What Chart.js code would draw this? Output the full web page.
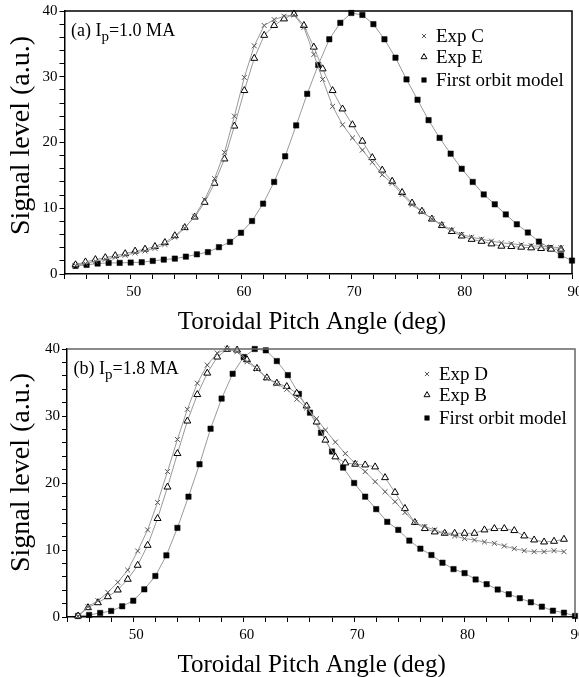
<!DOCTYPE html>
<html><head><meta charset="utf-8">
<script src="https://cdn.jsdelivr.net/npm/chart.js@4.4.1/dist/chart.umd.min.js"></script>
<style>
html,body{margin:0;padding:0;background:#fff;overflow:hidden;width:579px;height:677px;position:relative;}
canvas{position:absolute;left:0;}
#c1{top:0;} #c2{top:338px;}
</style></head><body>
<canvas id="c1" width="600" height="338"></canvas>
<canvas id="c2" width="600" height="339"></canvas>
<script>
// ---------- data ----------
const expAngles = [45.0,45.9,46.8,47.7,48.6,49.5,50.4,51.3,52.2,53.1,54.0,54.9,55.8,56.7,57.6,58.5,59.4,60.3,61.2,62.1,
  63.0,63.9,64.8,65.7,66.6,67.4,68.3,69.2,70.1,71.0,71.9,72.8,73.7,74.6,75.5,76.4,77.3,78.2,79.1,80.0,
  80.9,81.8,82.7,83.6,84.5,85.4,86.3,87.2,88.1,89.0];
const orbitAngles = [45,46,47,48,49,50,51,52,53,54,55,56,57,58,59,60,61,62,63,64,65,66,67,68,69,70,
  71,72,73,74,75,76,77,78,79,80,81,82,83,84,85,86,87,88,89,90];

// panel (a) Ip = 1.0 MA
const expC = [1.3,1.6,1.95,2.25,2.55,2.85,3.2,3.5,3.9,4.5,5.6,7.0,8.8,11.3,14.5,18.5,24.0,29.9,34.7,37.8,
  38.7,39.2,39.4,37.5,33.4,29.6,25.5,22.7,20.7,18.85,17.0,15.1,13.8,12.1,10.55,9.45,8.4,7.5,6.7,6.0,
  5.6,5.3,5.0,4.75,4.6,4.45,4.3,4.2,4.1,4.0];
const expE = [1.4,1.84,2.19,2.49,2.79,3.09,3.48,3.78,4.18,4.78,5.82,7.06,8.66,10.9,13.8,17.5,22.5,27.9,32.8,36.3,
  37.8,38.8,39.55,37.8,34.5,31.2,27.9,25.1,22.7,20.2,17.7,15.8,14.1,12.4,10.8,9.55,8.36,7.36,6.46,5.78,
  5.27,4.97,4.58,4.23,4.18,4.08,3.98,3.88,3.78,3.78];
const orbitA = [1.24,1.39,1.59,1.69,1.69,1.74,1.79,1.99,2.19,2.34,2.64,2.99,3.33,4.08,4.88,6.27,8.06,10.7,14.0,17.9,
  22.6,27.4,31.8,35.7,38.2,39.7,39.4,38.0,35.7,32.9,29.6,26.5,23.4,20.7,18.3,16.0,14.0,12.1,10.6,9.06,
  7.56,6.31,4.93,3.93,2.84,2.04];

// panel (b) Ip = 1.8 MA
const expD = [0.15,1.54,2.43,3.68,5.18,7.0,9.85,13.0,17.1,21.7,26.5,31.0,34.9,37.6,39.4,40.0,39.6,38.1,37.0,35.6,
  34.8,34.0,32.5,31.2,29.6,27.9,26.1,24.4,22.9,21.7,20.2,18.7,17.2,15.6,14.1,13.5,13.0,12.5,12.1,11.7,
  11.5,11.2,11.0,10.6,10.2,9.9,9.75,9.75,9.9,9.75];
const expB = [0.15,1.39,2.13,3.03,4.03,5.63,7.72,10.7,14.7,19.4,24.4,29.25,33.2,36.4,38.8,39.95,39.85,38.4,37.1,35.7,
  34.9,34.4,33.4,31.5,29.1,26.4,23.9,23.0,22.8,22.7,22.4,20.8,18.6,16.2,14.1,13.2,12.7,12.5,12.5,12.5,
  12.5,13.0,13.2,13.2,12.9,12.1,11.5,11.2,11.3,11.6];
const orbitB = [0.15,0.3,0.6,0.9,1.6,2.43,4.13,6.12,9.2,13.3,17.96,22.8,28.1,32.6,36.3,38.8,40.0,39.8,38.2,36.1,
  33.3,30.5,27.5,24.7,22.3,20.0,17.96,16.1,14.2,13.0,11.4,10.2,9.25,8.1,7.15,6.55,5.6,4.9,4.1,3.4,
  2.8,2.2,1.54,0.94,0.64,0.15];

const xRange = [44, 90];
const yRange = [0, 40];
const xLabelStep = 10, yLabelStep = 10, minorStep = 2;
const xTitle = 'Toroidal Pitch Angle (deg)';
const yTitle = 'Signal level (a.u.)';

// ---------- styling ----------
const SERIF = '"Liberation Serif", "Times New Roman", serif';
const LINE = '#999';
const styleCross = {pointStyle:'crossRot', pointRadius:3.5, pointBorderColor:'#555', pointBackgroundColor:'#555', pointBorderWidth:1};
const styleTri   = {pointStyle:'triangle', pointRadius:4, pointBorderColor:'#000', pointBackgroundColor:'#fff', pointBorderWidth:1};
const styleSq    = {pointStyle:'rect', pointRadius:3.8, pointBorderColor:'#000', pointBackgroundColor:'#000', pointBorderWidth:0.5};

function series(label, xs, ys, st) {
  return Object.assign({
    label, data: xs.map((x, i) => ({x, y: ys[i]})),
    borderColor: LINE, borderWidth: 1, tension: 0, fill: false, clip: false,
    pointHoverRadius: 4
  }, st);
}

function drawMarker(ctx, ds, x, y, k) {
  const r = ds.pointRadius * k;
  ctx.save();
  ctx.lineWidth = ds.pointBorderWidth;
  ctx.strokeStyle = ds.pointBorderColor;
  ctx.fillStyle = ds.pointBackgroundColor;
  ctx.beginPath();
  if (ds.pointStyle === 'rect') {
    const s = Math.SQRT1_2 * r;
    ctx.rect(x - s, y - s, 2 * s, 2 * s); ctx.fill(); ctx.stroke();
  } else if (ds.pointStyle === 'triangle') {
    let a = 0;
    ctx.moveTo(x + Math.sin(a) * r, y - Math.cos(a) * r);
    a += 2 * Math.PI / 3; ctx.lineTo(x + Math.sin(a) * r, y - Math.cos(a) * r);
    a += 2 * Math.PI / 3; ctx.lineTo(x + Math.sin(a) * r, y - Math.cos(a) * r);
    ctx.closePath(); ctx.fill(); ctx.stroke();
  } else {
    const d = Math.SQRT1_2 * r;
    ctx.moveTo(x - d, y - d); ctx.lineTo(x + d, y + d);
    ctx.moveTo(x - d, y + d); ctx.lineTo(x + d, y - d);
    ctx.stroke();
  }
  ctx.restore();
}

const panelPlugin = {
  id: 'panel',
  afterDatasetsDraw(chart, args, o) {
    const {ctx, chartArea: a} = chart;
    ctx.save();
    // frame top & right
    ctx.strokeStyle = o.frameColor; ctx.lineWidth = 1.5;
    ctx.beginPath();
    ctx.moveTo(a.left, a.top); ctx.lineTo(a.right, a.top); ctx.lineTo(a.right, a.bottom);
    ctx.stroke();
    // annotation
    ctx.fillStyle = '#000'; ctx.textBaseline = 'alphabetic'; ctx.textAlign = 'left';
    let x = a.left + 6.5, y = a.top + 25;
    ctx.font = '18px ' + SERIF; ctx.fillText(o.pre, x, y); x += ctx.measureText(o.pre).width;
    ctx.font = '15px ' + SERIF; ctx.fillText(o.sub, x, y + 5); x += ctx.measureText(o.sub).width;
    ctx.font = '18px ' + SERIF; ctx.fillText(o.post, x, y);
    // legend
    ctx.font = '19px ' + SERIF;
    const rows = [31, 52, 75];
    chart.data.datasets.forEach((ds, i) => {
      const by = a.top + rows[i];
      drawMarker(ctx, ds, a.right - 148, by - 6, 0.85);
      ctx.fillStyle = '#000';
      ctx.fillText(ds.label, a.right - 136, by);
    });
    ctx.restore();
  }
};

function axisCommon() {
  return {
    grid: {drawOnChartArea: false, drawTicks: true, tickLength: 5, tickColor: '#000', tickWidth: 1},
    border: {display: true, color: '#000', width: 1.5}
  };
}

function makePanel(id, datasets, ann, frameColor, target, lay) {
  const cfg = {
    type: 'line',
    data: {datasets},
    options: {
      responsive: false, animation: false, devicePixelRatio: 1,
      layout: {padding: {left: 0, top: 0, right: 0, bottom: 0}},
      plugins: {legend: {display: false}, tooltip: {enabled: false},
        panel: Object.assign({frameColor}, ann)},
      scales: {
        x: Object.assign(axisCommon(), {
          type: 'linear', min: xRange[0], max: xRange[1],
          ticks: {stepSize: minorStep, autoSkip: false, maxRotation: 0, padding: 4, labelOffset: 3,
            font: {family: SERIF, size: 15}, color: '#000',
            callback: v => (v % xLabelStep === 0 ? String(v) : '')},
          title: {display: true, text: xTitle + lay.xTail, color: '#000',
            font: {family: SERIF, size: 25}, padding: {top: 2, bottom: 0}}
        }),
        y: Object.assign(axisCommon(), {
          type: 'linear', min: yRange[0], max: yRange[1],
          ticks: {stepSize: minorStep, autoSkip: false, padding: 2,
            font: {family: SERIF, size: 15}, color: '#000',
            callback: v => (v % yLabelStep === 0 ? String(v) : '')},
          title: {display: true, text: lay.yLead + yTitle, color: '#000',
            font: {family: SERIF, size: 28}, padding: {top: 0, bottom: lay.yPad}}
        })
      }
    },
    plugins: [panelPlugin]
  };
  const chart = new Chart(document.getElementById(id), cfg);
  for (let k = 0; k < 3; k++) {
    const a = chart.chartArea;
    const p = chart.config.options.layout.padding;
    chart.config.options.layout.padding = {
      left: p.left + (target.left - a.left),
      top: p.top + (target.top - a.top),
      right: p.right + (a.right - target.right),
      bottom: p.bottom + (a.bottom - target.bottom)
    };
    chart.update('none');
  }
  return chart;
}

makePanel('c1', [
  series('Exp C', expAngles, expC, styleCross),
  series('Exp E', expAngles, expE, styleTri),
  series('First orbit model', orbitAngles, orbitA, styleSq)
], {pre: '(a) I', sub: 'p', post: '=1.0 MA'}, '#000', {left: 64.5, top: 6, right: 572, bottom: 274},
  {xTail: '  ', yLead: '  ', yPad: 2});

makePanel('c2', [
  series('Exp D', expAngles, expD, styleCross),
  series('Exp B', expAngles, expB, styleTri),
  series('First orbit model', orbitAngles, orbitB, styleSq)
], {pre: '(b) I', sub: 'p', post: '=1.8 MA'}, '#666', {left: 67, top: 10, right: 575, bottom: 279},
  {xTail: '   ', yLead: '   ', yPad: 5});
</script></body></html>
